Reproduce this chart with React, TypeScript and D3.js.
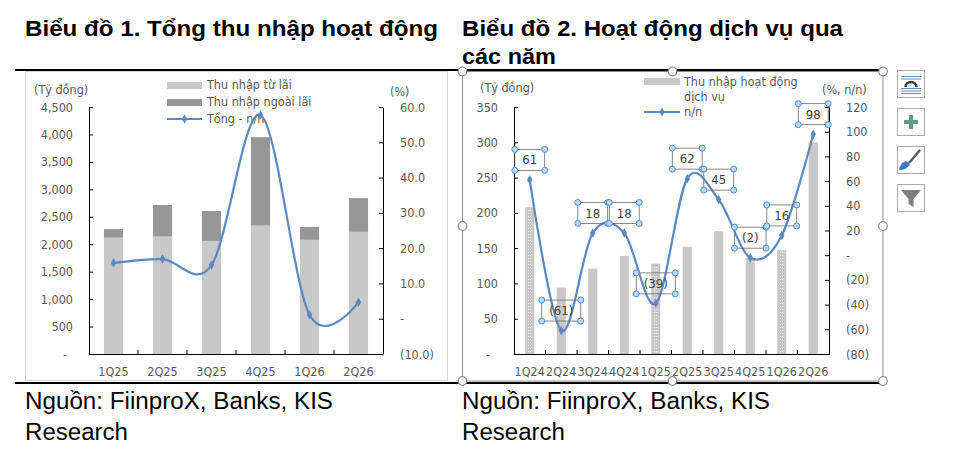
import { useRef, useEffect } from "react";
import * as d3 from "d3";

// ---- Biểu đồ 1 ----
const quarters1 = ["1Q25", "2Q25", "3Q25", "4Q25", "1Q26", "2Q26"];
const interestIncome = [2120, 2140, 2060, 2340, 2080, 2225];
const nonInterestIncome = [155, 575, 545, 1610, 235, 615];
const totalYoY = [15.8, 16.9, 15.2, 57.7, 1.1, 4.7];
const leftTicks1 = [0, 500, 1000, 1500, 2000, 2500, 3000, 3500, 4000, 4500];
const rightTicks1 = [-10, 0, 10, 20, 30, 40, 50, 60];

// ---- Biểu đồ 2 ----
const quarters2 = ["1Q24", "2Q24", "3Q24", "4Q24", "1Q25", "2Q25", "3Q25", "4Q25", "1Q26", "2Q26"];
const serviceIncome = [208, 94, 121, 139, 128, 152, 174, 136, 147, 300];
const serviceYoY = [61, -61, 18, 18, -39, 62, 45, -2, 16, 98];
const leftTicks2 = [0, 50, 100, 150, 200, 250, 300, 350];
const rightTicks2 = [-80, -60, -40, -20, 0, 20, 40, 60, 80, 100, 120];

const FONT = "'DejaVu Sans Condensed', 'DejaVu Sans', Verdana, sans-serif";
const FONT_SIZE = 12.5;
const GREY_TEXT = "#595959";
const LIGHT_BAR = "#C8C8C8";
const DARK_BAR = "#969696";
const LINE_BLUE = "#5B88C0";

const acct = (d: number, digits = 0) => {
    if (d === 0) return "-";
    const s = d3.format(`,.${digits}f`)(Math.abs(d));
    return d < 0 ? `(${s})` : s;
};

interface Box { left: number; right: number; top: number; bottom: number; }

function setupAxes(
    g: d3.Selection<SVGGElement, unknown, null, undefined>,
    cats: string[],
    box: Box,
    lTicks: number[],
    rTicks: number[],
    fmtL: (d: number) => string,
    fmtR: (d: number) => string,
    dashShift: number
) {
    const x = d3.scaleBand<string>().domain(cats).range([box.left, box.right]).padding(0);
    const yL = d3.scaleLinear().domain([lTicks[0], lTicks[lTicks.length - 1]]).range([box.bottom, box.top]);
    const yR = d3.scaleLinear().domain([rTicks[0], rTicks[rTicks.length - 1]]).range([box.bottom, box.top]);

    const style = (a: d3.Selection<SVGGElement, unknown, null, undefined>) => {
        a.attr("font-family", FONT).attr("font-size", FONT_SIZE);
        a.selectAll("text").attr("fill", GREY_TEXT);
        a.selectAll("line").attr("stroke", "#000");
        a.select(".domain").attr("stroke", "#000");
    };

    const left = g.append("g")
        .attr("transform", `translate(${box.left},0)`)
        .call(d3.axisLeft(yL).tickValues(lTicks).tickSizeInner(-4).tickSizeOuter(0).tickPadding(16)
            .tickFormat(d => fmtL(Number(d))))
        .call(style);
    // the "-" of zero sits a bit left, like Excel's accounting format
    left.selectAll<SVGTextElement, number>("text").filter(d => d === 0).attr("dx", dashShift);

    g.append("g")
        .attr("transform", `translate(${box.right},0)`)
        .call(d3.axisRight(yR).tickValues(rTicks).tickSizeInner(-4).tickSizeOuter(0).tickPadding(17)
            .tickFormat(d => fmtR(Number(d))))
        .call(style);

    g.append("g")
        .attr("transform", `translate(0,${box.bottom})`)
        .call(d3.axisBottom(x).tickSize(0).tickPadding(13))
        .call(style);

    // category boundary ticks (inside)
    const edges = cats.map(c => x(c)!).slice(1);
    g.append("g")
        .selectAll("line")
        .data(edges)
        .join("line")
        .attr("x1", d => d).attr("x2", d => d)
        .attr("y1", box.bottom).attr("y2", box.bottom - 4)
        .attr("stroke", "#000");

    return { x, yL, yR, cx: (c: string) => x(c)! + x.bandwidth() / 2 };
}

function drawIcons(svg: d3.Selection<SVGSVGElement, unknown, null, undefined>) {
    const g = svg.append("g");
    [70, 108, 146, 184].forEach(y => {
        g.append("rect").attr("x", 897.5).attr("y", y + 0.5).attr("width", 27).attr("height", 27)
            .attr("fill", "#fff").attr("stroke", "#ABABAB");
    });
    // layout options
    const lc = "#6F8FAF";
    [76.5, 79].forEach(y => g.append("line").attr("x1", 901).attr("x2", 921).attr("y1", y).attr("y2", y).attr("stroke", lc));
    [88.5, 91, 93.5].forEach(y => g.append("line").attr("x1", 901).attr("x2", 921).attr("y1", y).attr("y2", y).attr("stroke", lc));
    g.append("path").attr("d", "M905.5,87 A5.5,5 0 0 1 916.5,87").attr("fill", "none").attr("stroke", "#3A3A3A").attr("stroke-width", 2.4);
    // plus
    g.append("rect").attr("x", 909).attr("y", 115).attr("width", 4).attr("height", 14).attr("fill", "#5B9F80");
    g.append("rect").attr("x", 904).attr("y", 120).attr("width", 14).attr("height", 4).attr("fill", "#5B9F80");
    // brush
    g.append("line").attr("x1", 920).attr("y1", 150).attr("x2", 909).attr("y2", 163).attr("stroke", "#5A5A5A").attr("stroke-width", 2.5);
    g.append("path").attr("d", "M899,170 Q900,163 906,161 L910,164 Q907,170 899,170 Z").attr("fill", "#3C78C3");
    // filter
    g.append("path").attr("d", "M901,190 L921,190 L913.5,199 L913.5,207 L908.5,204 L908.5,199 Z").attr("fill", "#7F7F7F");
}

export default function App() {
    const svgRef = useRef<SVGSVGElement | null>(null);

    useEffect(() => {
        if (!svgRef.current) return;
        const svg = d3.select(svgRef.current);
        svg.selectAll("*").remove();

        const defs = svg.append("defs");
        const pat = defs.append("pattern").attr("id", "dots").attr("patternUnits", "userSpaceOnUse")
            .attr("width", 2).attr("height", 3);
        pat.append("rect").attr("width", 2).attr("height", 3).attr("fill", LIGHT_BAR);
        pat.append("rect").attr("width", 1).attr("height", 1).attr("fill", "#F4F4F4");

        // ---------- titles ----------
        const title = (x: number, y: number, t: string, len: number) =>
            svg.append("text").attr("x", x).attr("y", y).text(t)
                .attr("font-family", "'Liberation Sans', Arial, sans-serif")
                .attr("font-weight", "bold").attr("font-size", 21.5)
                .attr("textLength", len).attr("lengthAdjust", "spacingAndGlyphs").attr("fill", "#000");
        title(25, 36, "Biểu đồ 1. Tổng thu nhập hoạt động", 413);
        title(462, 36, "Biểu đồ 2. Hoạt động dịch vụ qua", 381);
        title(462, 64, "các năm", 94);

        const source = (x: number, y: number, t: string, len: number) =>
            svg.append("text").attr("x", x).attr("y", y).text(t)
                .attr("font-family", "'Liberation Sans', Arial, sans-serif")
                .attr("font-size", 23)
                .attr("textLength", len).attr("lengthAdjust", "spacingAndGlyphs").attr("fill", "#000");
        source(25, 409, "Nguồn: FiinproX, Banks, KIS", 308);
        source(25, 440, "Research", 103);
        source(462, 409, "Nguồn: FiinproX, Banks, KIS", 308);
        source(462, 440, "Research", 103);

        // frames
        svg.append("rect").attr("x", 25.5).attr("y", 71.5).attr("width", 422).attr("height", 309)
            .attr("fill", "none").attr("stroke", "#D9D9D9");
        svg.append("rect").attr("x", 462.5).attr("y", 71.5).attr("width", 420.5).attr("height", 309.5)
            .attr("fill", "none").attr("stroke", "#8C8C8C");
        [70, 383].forEach(y => svg.append("line").attr("x1", 15).attr("x2", 883).attr("y1", y).attr("y2", y)
            .attr("stroke", "#000").attr("stroke-width", 2.2));

        const smooth = d3.curveCardinal.tension(0);

        // ---------- chart 1 ----------
        const g1 = svg.append("g");
        const c1 = setupAxes(g1, quarters1, { left: 89, right: 383, top: 107, bottom: 354 },
            leftTicks1, rightTicks1, d => acct(d), d => acct(d, 1), -6);
        const bw1 = c1.x.bandwidth() * 0.39;
        g1.append("g").selectAll("rect").data(quarters1).join("rect")
            .attr("x", d => c1.cx(d) - bw1 / 2).attr("width", bw1)
            .attr("y", (_, i) => c1.yL(interestIncome[i]))
            .attr("height", (_, i) => c1.yL(0) - c1.yL(interestIncome[i]))
            .attr("fill", LIGHT_BAR);
        g1.append("g").selectAll("rect").data(quarters1).join("rect")
            .attr("x", d => c1.cx(d) - bw1 / 2).attr("width", bw1)
            .attr("y", (_, i) => c1.yL(interestIncome[i] + nonInterestIncome[i]))
            .attr("height", (_, i) => c1.yL(interestIncome[i]) - c1.yL(interestIncome[i] + nonInterestIncome[i]))
            .attr("fill", DARK_BAR);

        const txt = (g: d3.Selection<SVGGElement, unknown, null, undefined>, x: number, y: number, t: string, anchor = "start") =>
            g.append("text").attr("x", x).attr("y", y).attr("dy", "0.35em").text(t)
                .attr("font-family", FONT).attr("font-size", FONT_SIZE).attr("fill", GREY_TEXT).attr("text-anchor", anchor);

        txt(g1, 34, 90, "(Tỷ đồng)");
        txt(g1, 390, 92, "(%)");
        // legend 1
        g1.append("rect").attr("x", 167).attr("y", 82).attr("width", 35).attr("height", 7).attr("fill", LIGHT_BAR);
        g1.append("rect").attr("x", 167).attr("y", 99).attr("width", 35).attr("height", 7).attr("fill", DARK_BAR);
        g1.append("line").attr("x1", 167).attr("x2", 202).attr("y1", 119).attr("y2", 119).attr("stroke", LINE_BLUE).attr("stroke-width", 2);
        g1.append("path").attr("d", d3.symbol(d3.symbolDiamond, 24)()!).attr("transform", "translate(184.5,119)").attr("fill", LINE_BLUE);
        txt(g1, 207, 85, "Thu nhập từ lãi");
        txt(g1, 207, 102, "Thu nhập ngoài lãi");
        txt(g1, 207, 119, "Tổng - n/n");

        const line1 = d3.line<number>().x((_, i) => c1.cx(quarters1[i])).y(d => c1.yR(d)).curve(smooth);
        g1.append("path").attr("d", line1(totalYoY)).attr("fill", "none").attr("stroke", LINE_BLUE).attr("stroke-width", 2.2);
        g1.append("g").selectAll("path").data(totalYoY).join("path")
            .attr("d", d3.symbol(d3.symbolDiamond, 26)()!)
            .attr("transform", (d, i) => `translate(${c1.cx(quarters1[i])},${c1.yR(d)})`)
            .attr("fill", LINE_BLUE);

        // ---------- chart 2 ----------
        const g2 = svg.append("g");
        const c2 = setupAxes(g2, quarters2, { left: 514, right: 829, top: 107, bottom: 354 },
            leftTicks2, rightTicks2, d => acct(d), d => acct(d), -8);
        const bw2 = c2.x.bandwidth() * 0.29;
        g2.append("g").selectAll("rect").data(quarters2).join("rect")
            .attr("x", d => c2.cx(d) - bw2 / 2).attr("width", bw2)
            .attr("y", (_, i) => c2.yL(serviceIncome[i]))
            .attr("height", (_, i) => c2.yL(0) - c2.yL(serviceIncome[i]))
            .attr("fill", LIGHT_BAR);
        // first-quarter bars carry a dotted texture
        g2.append("g").selectAll("rect").data(quarters2.filter(q => q.startsWith("1Q"))).join("rect")
            .attr("x", d => c2.cx(d) - 2).attr("width", 4)
            .attr("y", d => c2.yL(serviceIncome[quarters2.indexOf(d)]) + 2)
            .attr("height", d => c2.yL(0) - c2.yL(serviceIncome[quarters2.indexOf(d)]) - 2)
            .attr("fill", "url(#dots)");

        txt(g2, 480, 88, "(Tỷ đồng)");
        txt(g2, 822, 90, "(%, n/n)");
        g2.append("rect").attr("x", 644).attr("y", 78).attr("width", 36).attr("height", 7).attr("fill", LIGHT_BAR);
        g2.append("line").attr("x1", 644).attr("x2", 680).attr("y1", 112).attr("y2", 112).attr("stroke", LINE_BLUE).attr("stroke-width", 2);
        g2.append("path").attr("d", d3.symbol(d3.symbolDiamond, 24)()!).attr("transform", "translate(662,112)").attr("fill", LINE_BLUE);
        txt(g2, 684, 81.5, "Thu nhập hoạt động");
        txt(g2, 684, 97, "dịch vụ");
        txt(g2, 684, 112, "n/n");

        const line2 = d3.line<number>().x((_, i) => c2.cx(quarters2[i])).y(d => c2.yR(d)).curve(smooth);
        g2.append("path").attr("d", line2(serviceYoY)).attr("fill", "none").attr("stroke", LINE_BLUE).attr("stroke-width", 2.2);
        g2.append("g").selectAll("path").data(serviceYoY).join("path")
            .attr("d", d3.symbol(d3.symbolDiamond, 26)()!)
            .attr("transform", (d, i) => `translate(${c2.cx(quarters2[i])},${c2.yR(d)})`)
            .attr("fill", LINE_BLUE);

        // data labels (selected in Excel: box + corner handles)
        const lab = g2.append("g");
        serviceYoY.forEach((v, i) => {
            const cx = c2.cx(quarters2[i]);
            const cy = c2.yR(v) - 20;
            const t = lab.append("text").attr("x", cx).attr("y", cy).attr("dy", "0.35em")
                .attr("text-anchor", "middle").attr("font-family", FONT).attr("font-size", 13)
                .attr("fill", "#404040").text(acct(v));
            const w = (t.node()?.getComputedTextLength() ?? 14) + 15;
            const h = 21;
            lab.insert("rect", "text").attr("x", cx - w / 2).attr("y", cy - h / 2).attr("width", w).attr("height", h)
                .attr("fill", "none").attr("stroke", "#6A6A6A").attr("stroke-width", 0.8);
            [[-1, -1], [1, -1], [-1, 1], [1, 1]].forEach(([sx, sy]) =>
                lab.append("circle").attr("cx", cx + sx * w / 2).attr("cy", cy + sy * h / 2).attr("r", 3)
                    .attr("fill", "#BDD7EE").attr("stroke", "#4A90D9").attr("stroke-width", 1));
        });

        // chart selection handles
        [[462.5, 71.5], [672.5, 71.5], [883, 71.5], [462.5, 226], [883, 226], [462.5, 381], [672.5, 381], [883, 381]]
            .forEach(([x, y]) => svg.append("circle").attr("cx", x).attr("cy", y).attr("r", 4.3)
                .attr("fill", "#fff").attr("stroke", "#8C8C8C").attr("stroke-width", 1.2));

        drawIcons(svg);
    }, []);

    return (
        <svg ref={svgRef} width={963} height={474}
            style={{ position: "absolute", left: 0, top: 0, background: "#fff" }} />
    );
}
